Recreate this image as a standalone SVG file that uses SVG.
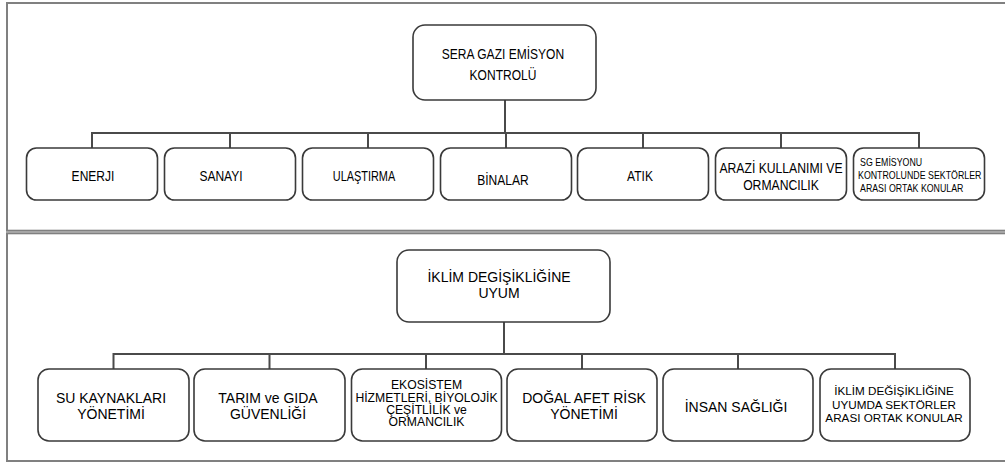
<svg xmlns="http://www.w3.org/2000/svg" width="1005" height="464" viewBox="0 0 1005 464">
<style>
.frame{fill:none;stroke:#808080;stroke-width:2}
.box{fill:#fff;stroke:#3a3a3a;stroke-width:1.6}
.conn{fill:none;stroke:#4a4a4a;stroke-width:2}
text{font-family:"Liberation Sans",Arial,sans-serif;fill:#000;text-anchor:middle}
.t12{font-size:14px}
.t14{font-size:14px}
.t9{font-size:10.5px;text-anchor:start}
.e12{font-size:12.2px}
.k12{font-size:11.7px}
</style>
<rect class="frame" x="7" y="3" width="1001" height="227.7"/>
<rect class="frame" x="7" y="233.3" width="1001" height="227.7"/>
<g id="connectors">
<path class="conn" d="M505 100V133M92 148V133H919V148M230 133V148M368 133V148M506 133V148M643 133V148M781 133V148"/>
<path class="conn" d="M504 322V354M113.5 369V354H895V369M269.5 354V369M426 354V369M582 354V369M738 354V369"/>
</g>
<g id="sera">
<rect class="box" x="413" y="25" width="183" height="75" rx="12"/>
<text class="t12" transform="translate(503,58.5) scale(0.86,1)">SERA GAZI EMİSYON</text>
<text class="t12" transform="translate(503,80) scale(0.86,1)">KONTROLÜ</text>
</g>
<g id="enerji"><rect class="box" x="26.5" y="148" width="131" height="52" rx="10"/><text class="t12" transform="translate(93,181) scale(0.86,1)">ENERJI</text></g>
<g id="sanayi"><rect class="box" x="164.5" y="148" width="131" height="52" rx="10"/><text class="t12" transform="translate(221,181) scale(0.86,1)">SANAYI</text></g>
<g id="ulastirma"><rect class="box" x="302.5" y="148" width="131" height="52" rx="10"/><text class="t12" transform="translate(364,181) scale(0.78,1)">ULAŞTIRMA</text></g>
<g id="binalar"><rect class="box" x="440.5" y="148" width="131" height="52" rx="10"/><text class="t12" transform="translate(503,185) scale(0.86,1)">BİNALAR</text></g>
<g id="atik"><rect class="box" x="577.5" y="148" width="131" height="52" rx="10"/><text class="t12" transform="translate(640,181) scale(0.86,1)">ATIK</text></g>
<g id="arazi"><rect class="box" x="715.5" y="148" width="131" height="52" rx="10"/><text class="t12" transform="translate(781,173) scale(0.87,1)">ARAZİ KULLANIMI VE</text><text class="t12" transform="translate(781,190) scale(0.87,1)">ORMANCILIK</text></g>
<g id="sg"><rect class="box" x="853.5" y="148" width="131" height="52" rx="10"/><text class="t9" transform="translate(860,166) scale(0.84,1)">SG EMİSYONU</text><text class="t9" transform="translate(858,179) scale(0.84,1)">KONTROLUNDE SEKTÖRLER</text><text class="t9" transform="translate(860,191.7) scale(0.84,1)">ARASI ORTAK KONULAR</text></g>
<g id="uyum">
<rect class="box" x="397" y="250" width="213" height="72" rx="12"/>
<text class="t14" x="499" y="282">İKLİM DEGİŞİKLİĞİNE</text>
<text class="t14" x="499" y="298">UYUM</text>
</g>
<g id="su"><rect class="box" x="38" y="369" width="151" height="72" rx="11"/><text class="t14" x="111" y="403">SU KAYNAKLARI</text><text class="t14" x="111" y="419">YÖNETİMİ</text></g>
<g id="tarim"><rect class="box" x="194" y="369" width="151" height="72" rx="11"/><text class="t14" x="268" y="403">TARIM ve GIDA</text><text class="t14" x="268" y="419">GÜVENLİĞİ</text></g>
<g id="ekosistem"><rect class="box" x="351.5" y="369" width="150" height="72" rx="11"/><text class="e12" x="426.5" y="389">EKOSİSTEM</text><text class="e12" x="426.5" y="401.5">HİZMETLERİ, BİYOLOJİK</text><text class="e12" x="426.5" y="413.5">ÇEŞİTLİLİK ve</text><text class="e12" x="426.5" y="425.5">ORMANCILIK</text></g>
<g id="dogal"><rect class="box" x="507" y="369" width="150" height="72" rx="11"/><text class="t14" x="584" y="403">DOĞAL AFET RİSK</text><text class="t14" x="584" y="419">YÖNETİMİ</text></g>
<g id="insan"><rect class="box" x="663" y="369" width="150" height="72" rx="11"/><text class="t14" x="736" y="411.5">İNSAN SAĞLIĞI</text></g>
<g id="ortak"><rect class="box" x="820" y="369" width="150" height="72" rx="11"/><text class="k12" x="894" y="395">İKLİM DEĞİŞİKLİĞİNE</text><text class="k12" x="894" y="408.5">UYUMDA SEKTÖRLER</text><text class="k12" x="894" y="421.7">ARASI ORTAK KONULAR</text></g>
</svg>
